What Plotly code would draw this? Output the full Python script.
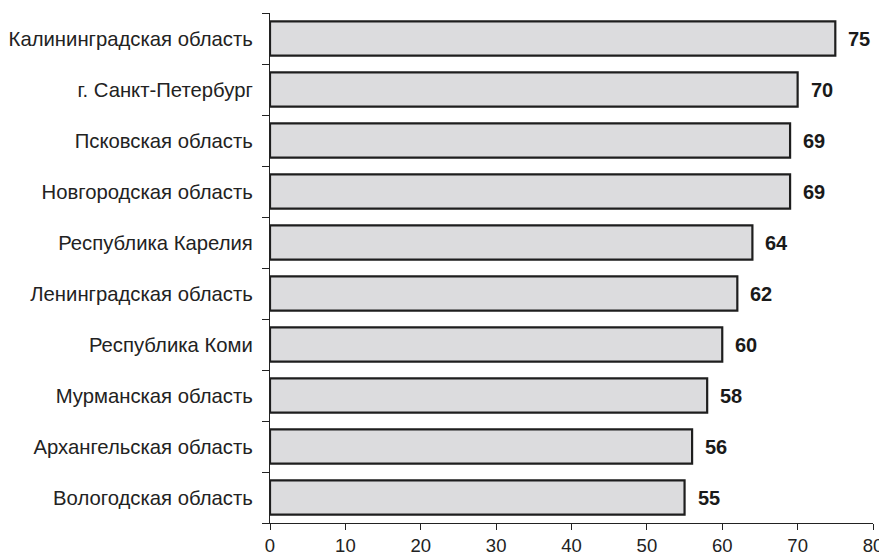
import plotly.graph_objects as go

regions = [
    "Вологодская область",
    "Архангельская область",
    "Мурманская область",
    "Республика Коми",
    "Ленинградская область",
    "Республика Карелия",
    "Новгородская область",
    "Псковская область",
    "г. Санкт-Петербург",
    "Калининградская область",
]
values = [55, 56, 58, 60, 62, 64, 69, 69, 70, 75]
x_ticks = [0, 10, 20, 30, 40, 50, 60, 70, 80]

fig = go.Figure()
fig.add_trace(go.Bar(
    x=values, y=regions, orientation="h",
    marker=dict(color="#dcdcde", line=dict(color="#1e1e1e", width=2.2)),
    width=0.67,
    hoverinfo="skip",
))

for v, r in zip(values, regions):
    fig.add_annotation(
        x=v, y=r, text=f"<b>{v}</b>", showarrow=False,
        xanchor="left", yanchor="middle", xshift=11,
        font=dict(family="Liberation Sans, Arial", size=20, color="#1a1a1a"),
    )

fig.update_layout(
    width=879, height=547,
    margin=dict(l=262, r=14, t=5, b=32, autoexpand=False),
    paper_bgcolor="white", plot_bgcolor="white",
    showlegend=False,
    font=dict(family="Liberation Sans, Arial", size=16, color="#222222"),
    bargap=0.33,
)
fig.update_xaxes(
    range=[0, 80], tickvals=x_ticks, showgrid=False, zeroline=False,
    showline=True, linecolor="#222222", linewidth=1.2,
    ticks="outside", ticklen=6, tickcolor="#222222", tickwidth=1.2,
    tickfont=dict(size=18.5), fixedrange=True, automargin=False,
)
fig.update_yaxes(
    categoryorder="array", categoryarray=regions,
    showgrid=False, zeroline=False,
    showline=True, linecolor="#222222", linewidth=1.2,
    ticks="outside", ticklen=7, tickcolor="#222222", tickwidth=1.2,
    tickson="boundaries", ticklabelstandoff=12,
    tickfont=dict(size=20.3), fixedrange=True, automargin=False,
)

fig.write_html("out.html")
